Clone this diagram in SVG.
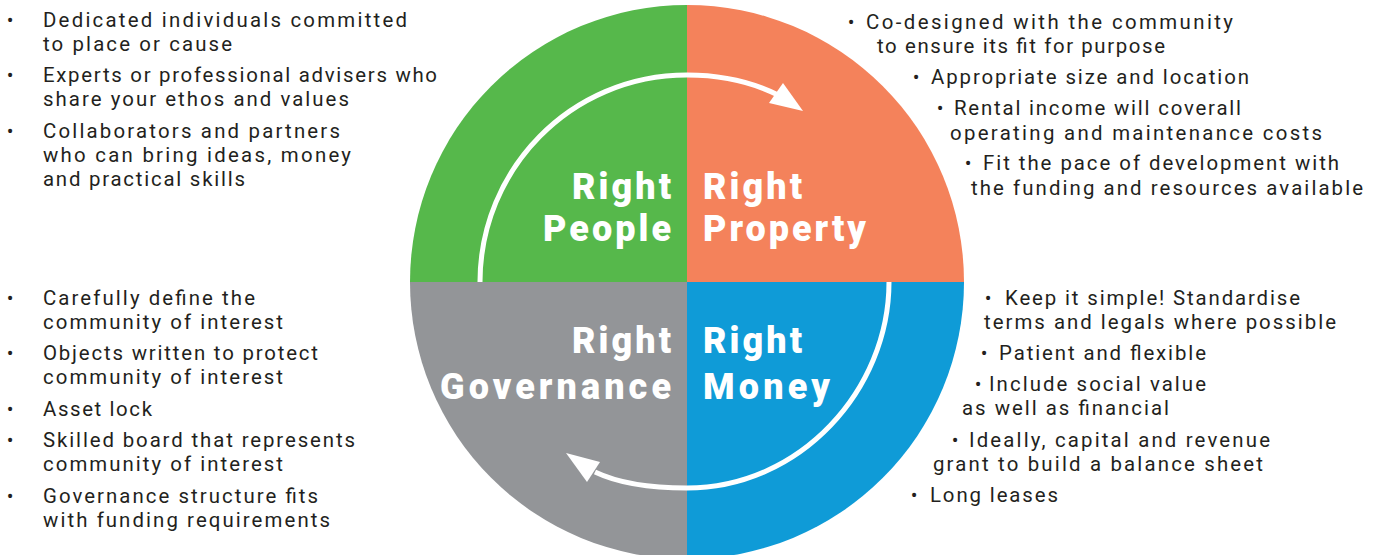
<svg xmlns="http://www.w3.org/2000/svg" width="1381" height="555" viewBox="0 0 1381 555">
<style>
.t{font-family:Roboto,"Liberation Sans",sans-serif;font-size:20.4px;fill:#231f20}
.b{font-family:Roboto,"Liberation Sans",sans-serif;font-size:20px;fill:#231f20;text-anchor:middle}
.l{font-family:Roboto,"Liberation Sans",sans-serif;font-size:36px;font-weight:900;fill:#ffffff}
.e{text-anchor:end}
.arc{fill:none;stroke:#ffffff;stroke-width:5}
.head{fill:#ffffff}
</style>
<rect width="1381" height="555" fill="#ffffff"/>
<g id="people">
<path d="M687,282 L410,282 A277,277 0 0 1 687,5 Z" fill="#56b84b"/>
<text class="l e"><tspan x="671" y="198.5" textLength="99">Right</tspan><tspan x="671" y="241" textLength="128">People</tspan></text>
</g>
<g id="property">
<path d="M687,282 L687,5 A277,277 0 0 1 964,282 Z" fill="#f4825b"/>
<text class="l"><tspan x="703" y="198.5" textLength="99">Right</tspan><tspan x="703" y="241" textLength="163">Property</tspan></text>
</g>
<g id="money">
<path d="M687,282 L964,282 A277,277 0 0 1 687,559 Z" fill="#0f9bd7"/>
<text class="l"><tspan x="703" y="352.5" textLength="99">Right</tspan><tspan x="703" y="398.5" textLength="127">Money</tspan></text>
</g>
<g id="governance">
<path d="M687,282 L687,559 A277,277 0 0 1 410,282 Z" fill="#939598"/>
<text class="l e"><tspan x="671" y="352.5" textLength="99">Right</tspan><tspan x="671" y="398.5" textLength="231">Governance</tspan></text>
</g>
<g id="connectors">
<path class="arc" d="M480,282 C480,170 570,75 687,75 C728,75 756,84 778,95"/>
<polygon class="head" points="803,111 783,83 769,103"/>
<path class="arc" d="M889,282 C889,390 800,488 687,488 C650,488 620,484 595,472"/>
<polygon class="head" points="566,453 600,462 587,482"/>
</g>
<g id="people-notes">
<text class="b" x="10" y="26.7">•</text>
<text class="t"><tspan x="43" y="26.7" textLength="364">Dedicated individuals committed</tspan><tspan x="43" y="50.7" textLength="189">to place or cause</tspan></text>
<text class="b" x="10" y="82">•</text>
<text class="t"><tspan x="43" y="82" textLength="394">Experts or professional advisers who</tspan><tspan x="43" y="106" textLength="306">share your ethos and values</tspan></text>
<text class="b" x="10" y="137.5">•</text>
<text class="t"><tspan x="43" y="137.5" textLength="297">Collaborators and partners</tspan><tspan x="43" y="161.5" textLength="308">who can bring ideas, money</tspan><tspan x="43" y="185.5" textLength="202">and practical skills</tspan></text>
</g>
<g id="governance-notes">
<text class="b" x="10" y="305">•</text>
<text class="t"><tspan x="43" y="305" textLength="212">Carefully define the</tspan><tspan x="43" y="329" textLength="240">community of interest</tspan></text>
<text class="b" x="10" y="360">•</text>
<text class="t"><tspan x="43" y="360" textLength="275">Objects written to protect</tspan><tspan x="43" y="384" textLength="240">community of interest</tspan></text>
<text class="b" x="10" y="416">•</text>
<text class="t" x="43" y="416" textLength="109">Asset lock</text>
<text class="b" x="10" y="446.5">•</text>
<text class="t"><tspan x="43" y="446.5" textLength="312">Skilled board that represents</tspan><tspan x="43" y="470.5" textLength="240">community of interest</tspan></text>
<text class="b" x="10" y="502.5">•</text>
<text class="t"><tspan x="43" y="502.5" textLength="275">Governance structure fits</tspan><tspan x="43" y="526.5" textLength="287">with funding requirements</tspan></text>
</g>
<g id="property-notes">
<text class="b" x="851" y="29">•</text>
<text class="t"><tspan x="866" y="29" textLength="367">Co-designed with the community</tspan><tspan x="877" y="53" textLength="288">to ensure its fit for purpose</tspan></text>
<text class="b" x="916" y="84">•</text>
<text class="t" x="931" y="84" textLength="318">Appropriate size and location</text>
<text class="b" x="940" y="115">•</text>
<text class="t"><tspan x="954" y="115" textLength="287">Rental income will coverall</tspan><tspan x="950" y="139.5" textLength="372">operating and maintenance costs</tspan></text>
<text class="b" x="968" y="170">•</text>
<text class="t"><tspan x="983" y="170" textLength="356">Fit the pace of development with</tspan><tspan x="971" y="194.5" textLength="392">the funding and resources available</tspan></text>
</g>
<g id="money-notes">
<text class="b" x="988" y="305">•</text>
<text class="t"><tspan x="1005" y="305" textLength="295">Keep it simple! Standardise</tspan><tspan x="984" y="329" textLength="352">terms and legals where possible</tspan></text>
<text class="b" x="984" y="360">•</text>
<text class="t" x="999" y="360" textLength="207">Patient and flexible</text>
<text class="b" x="978" y="391">•</text>
<text class="t"><tspan x="989" y="391" textLength="217">Include social value</tspan><tspan x="962" y="415" textLength="207">as well as financial</tspan></text>
<text class="b" x="955" y="446.5">•</text>
<text class="t"><tspan x="969" y="446.5" textLength="301">Ideally, capital and revenue</tspan><tspan x="933" y="470.5" textLength="330">grant to build a balance sheet</tspan></text>
<text class="b" x="914" y="502">•</text>
<text class="t" x="930" y="502" textLength="128">Long leases</text>
</g>
</svg>
